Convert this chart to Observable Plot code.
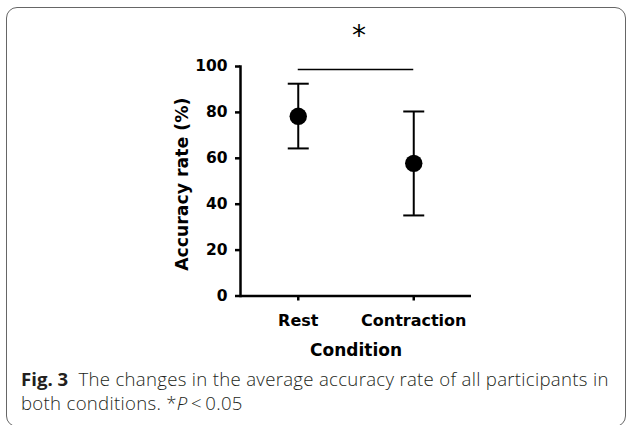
<!DOCTYPE html>
<html><head><meta charset="utf-8">
<script src="https://cdn.jsdelivr.net/npm/d3@7"></script>
<script src="https://cdn.jsdelivr.net/npm/@observablehq/plot@0.6"></script>
<style>
html,body{margin:0;padding:0;background:#fff;}
body{width:626px;height:425px;overflow:hidden;position:relative;font-family:"DejaVu Sans",sans-serif;}
#frame{position:absolute;left:6px;top:7px;width:620px;height:420px;box-sizing:border-box;border:1.5px solid #666;border-radius:11px;}
#chart{position:absolute;left:0;top:0;}
#cap{position:absolute;left:21px;top:367px;font-family:"Open Sans",sans-serif;font-size:18.6px;font-weight:300;letter-spacing:0.3px;line-height:24px;color:#231f20;white-space:nowrap;}
#cap b{font-weight:700;letter-spacing:0;}
</style></head><body>
<div id="frame"></div>
<div id="chart"></div>
<div id="cap"><span><b>Fig. 3</b>&nbsp; The changes in the average accuracy rate of all participants in</span><br><span>both conditions. *<i>P</i>&thinsp;&lt;&thinsp;0.05</span></div>
<script>
const conditions = ["Rest", "Contraction"];
const means = [78.3, 57.8];
const upper = [92.5, 80.4];
const lower = [64.3, 35.1];
const yTicks = [0, 20, 40, 60, 80, 100];
const sigFrom = [0];
const sigTo = [1];
const sigLevel = [98.7];
const sigStarLevel = [113.2];
const sigLabel = ["*"];

const data = conditions.map((c, i) => ({i, cond: c, mean: means[i], hi: upper[i], lo: lower[i]}));
const sig = sigLevel.map((y, k) => ({from: sigFrom[k], to: sigTo[k], y, ys: sigStarLevel[k], label: sigLabel[k]}));

const capSymbol = {draw(context, size) { const w = Math.sqrt(size / Math.PI); context.moveTo(-w, 0); context.lineTo(w, 0); }};

const chart = Plot.plot({
  width: 626,
  height: 365,
  marginLeft: 240,
  marginRight: 155,
  marginTop: 66,
  marginBottom: 69.5,
  style: {fontFamily: "DejaVu Sans", color: "black", background: "transparent", overflow: "visible"},
  x: {domain: [-0.5, 1.5]},
  y: {domain: [0, 100]},
  marks: [
    Plot.axisY({ticks: yTicks, tickSize: 5, tickPadding: 8, fontSize: 15.5, fontWeight: "bold", strokeWidth: 2.5, label: null}),
    Plot.axisX({ticks: [0, 1], tickFormat: i => conditions[i], tickSize: 5, tickPadding: 14, fontSize: 16, fontWeight: "bold", strokeWidth: 2.5, label: null}),
    Plot.ruleY([0], {strokeWidth: 2.5}),
    Plot.frame({anchor: "left", strokeWidth: 2.5}),
    Plot.text(["Accuracy rate (%)"], {frameAnchor: "left", textAnchor: "middle", rotate: -90, dx: -58, dy: 3, fontSize: 17.3, fontWeight: "bold"}),
    Plot.text(["Condition"], {frameAnchor: "bottom", dy: 60, fontSize: 17, fontWeight: "bold"}),
    Plot.ruleX(data, {x: "i", y1: "lo", y2: "hi", strokeWidth: 2}),
    Plot.dot(data, {x: "i", y: "hi", symbol: capSymbol, r: 10.5, stroke: "black", fill: "none", strokeWidth: 2}),
    Plot.dot(data, {x: "i", y: "lo", symbol: capSymbol, r: 10.5, stroke: "black", fill: "none", strokeWidth: 2}),
    Plot.dot(data, {x: "i", y: "mean", r: 8.7, fill: "black", stroke: "none"}),
    Plot.ruleY(sig, {y: "y", x1: "from", x2: "to", strokeWidth: 1.5}),
    Plot.text(sig, {x: d => (d.from + d.to) / 2, y: "ys", text: "label", fontSize: 28, dx: 3})
  ]
});
document.getElementById("chart").appendChild(chart);
</script>
</body></html>
